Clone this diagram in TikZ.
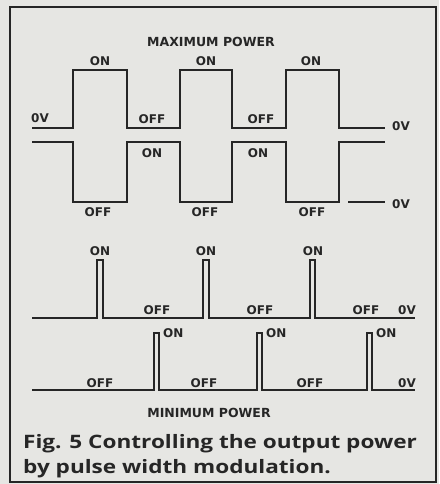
\documentclass[tikz,border=0pt]{standalone}
\usepackage{fontspec}
\setmainfont{DejaVu Sans}
\newfontfamily\capfont[FakeStretch=1.22]{Open Sans}
\definecolor{bg}{HTML}{E6E6E3}
\definecolor{ink}{HTML}{262626}
\begin{document}
\begin{tikzpicture}[x=1pt,y=-1pt,
  wave/.style={line width=1.8pt, draw=ink, line join=miter},
  lbl/.style={font=\bfseries\fontsize{12}{14}\selectfont, text=ink, inner sep=0pt, anchor=base},
  ttl/.style={font=\bfseries\fontsize{12.5}{14}\selectfont, text=ink, inner sep=0pt, anchor=base},
  captxt/.style={font=\capfont\bfseries\fontsize{18.5}{22}\selectfont, text=ink, inner sep=0pt, anchor=base west}]
\useasboundingbox (0,0) rectangle (439,484);
\fill[bg] (0,0) rectangle (439,484);
\draw[line width=2pt, ink] (10,7) rectangle (436,482);
% maximum power
\node[ttl] (tmax) at (211,47) {MAXIMUM POWER};
\draw[wave] (32,128) -- (73,128) -- (73,70) -- (127,70) -- (127,128) -- (180,128) -- (180,70) -- (232,70) -- (232,128) -- (286,128) -- (286,70) -- (339,70) -- (339,128) -- (385,128);
\draw[wave] (32,142) -- (73,142) -- (73,202) -- (127,202) -- (127,142) -- (180,142) -- (180,202) -- (232,202) -- (232,142) -- (286,142) -- (286,202) -- (339,202) -- (339,142) -- (385,142);
\draw[line width=1.2pt, ink] (348,202) -- (385,202);
\node[lbl] (a0l) at (40,123) {0V};
\node[lbl] (a1) at (100,66) {ON};
\node[lbl] (a2) at (206,66) {ON};
\node[lbl] (a3) at (311,66) {ON};
\node[lbl] (a4) at (152,124) {OFF};
\node[lbl] (a5) at (261,124) {OFF};
\node[lbl] (a0r) at (401,131) {0V};
\node[lbl] (b1) at (152,157) {ON};
\node[lbl] (b2) at (258,157) {ON};
\node[lbl] (b3) at (98,216) {OFF};
\node[lbl] (b4) at (205,216) {OFF};
\node[lbl] (b5) at (312,216) {OFF};
\node[lbl] (b0) at (401,208) {0V};
% minimum power
\draw[wave] (32,318) -- (97,318) -- (97,260) -- (103,260) -- (103,318) -- (203,318) -- (203,260) -- (209,260) -- (209,318) -- (310,318) -- (310,260) -- (315,260) -- (315,318) -- (415,318);
\draw[wave] (32,390) -- (154,390) -- (154,333) -- (159,333) -- (159,390) -- (257,390) -- (257,333) -- (262,333) -- (262,390) -- (367,390) -- (367,333) -- (372,333) -- (372,390) -- (415,390);
\node[lbl] (c1) at (100,255) {ON};
\node[lbl] (c2) at (206,255) {ON};
\node[lbl] (c3) at (313,255) {ON};
\node[lbl] (c4) at (157,314) {OFF};
\node[lbl] (c5) at (260,314) {OFF};
\node[lbl] (c6) at (366,314) {OFF};
\node[lbl] (c0) at (407,314) {0V};
\node[lbl, anchor=base west] (d1) at (163,337) {ON};
\node[lbl, anchor=base west] (d2) at (266,337) {ON};
\node[lbl, anchor=base west] (d3) at (376,337) {ON};
\node[lbl] (d4) at (100,387) {OFF};
\node[lbl] (d5) at (204,387) {OFF};
\node[lbl] (d6) at (310,387) {OFF};
\node[lbl] (d0) at (407,387) {0V};
\node[ttl] (tmin) at (209,417) {MINIMUM POWER};
\node[captxt] (cap1) at (23,448) {Fig. 5 Controlling the output power};
\node[captxt] (cap2) at (23,473) {by pulse width modulation.};
\end{tikzpicture}
\end{document}
